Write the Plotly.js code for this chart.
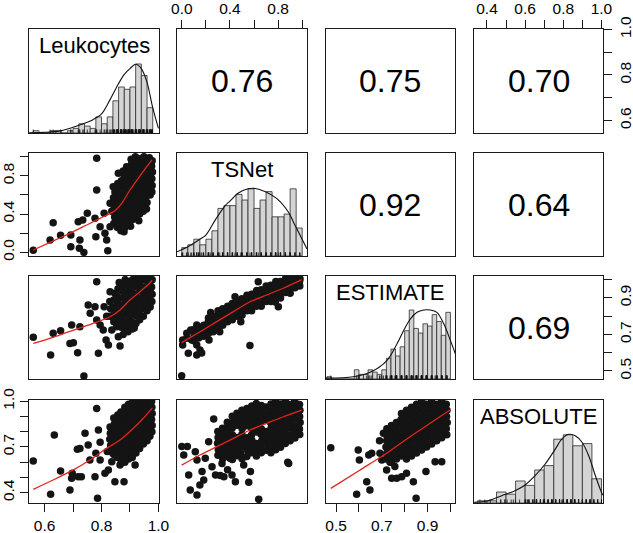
<!DOCTYPE html>
<html><head><meta charset="utf-8">
<script src="https://cdn.plot.ly/plotly-3.0.1.min.js"></script>
<style>html,body{margin:0;padding:0;background:#fff}#chart{width:633px;height:533px}</style>
</head><body><div id="chart"></div>
<script>
// ---------------- data ----------------
const varNames = ['Leukocytes', 'TSNet', 'ESTIMATE', 'ABSOLUTE'];
const corrRows = [1, 1, 1, 2, 2, 3];
const corrCols = [2, 3, 4, 3, 4, 4];
const corrValues = ['0.76', '0.75', '0.70', '0.92', '0.64', '0.69'];

// tick labels
const ticksL = [0.6, 0.7, 0.8, 0.9, 1.0], labelsL = ['0.6', '', '0.8', '', '1.0'];
const ticksT = [0, 0.2, 0.4, 0.6, 0.8, 1.0], labelsT = ['0.0', '', '0.4', '', '0.8', ''];
const ticksE = [0.5, 0.6, 0.7, 0.8, 0.9, 1.0], labelsE = ['0.5', '', '0.7', '', '0.9', ''];
const ticksA = [0.4, 0.5, 0.6, 0.7, 0.8, 0.9, 1.0];
const labelsAtop = ['0.4', '', '0.6', '', '0.8', '', '1.0'];
const labelsAleft = ['0.4', '', '', '0.7', '', '', '1.0'];

// histograms (bin left edges and counts)
const histL_left = [0.56,0.58,0.60,0.62,0.64,0.66,0.68,0.70,0.72,0.74,0.76,0.78,0.80,0.82,0.84,0.86,0.88,0.90,0.92,0.94,0.96];
const histL_count = [1,0,0,1,1,0,1,2,4,3,2,7,4,7,14,20,19,20,30,25,11];
const histT_left = [0,0.05,0.10,0.15,0.20,0.25,0.30,0.35,0.40,0.45,0.50,0.55,0.60,0.65,0.70,0.75,0.80,0.85,0.90,0.95];
const histT_count = [3,4,6,4,6,9,17,18,18,22,20,24,17,20,23,14,14,15,24,10];
const histE_left = [0.46,0.48,0.50,0.52,0.54,0.56,0.58,0.60,0.62,0.64,0.66,0.68,0.70,0.72,0.74,0.76,0.78,0.80,0.82,0.84,0.86,0.88,0.90,0.92,0.94,0.96,0.98];
const histE_count = [1,0,0,0,0,0,4,2,2,4,3,2,4,9,13,10,14,21,30,22,20,24,23,28,25,19,29];
const histA_left = [0.35,0.40,0.45,0.50,0.55,0.60,0.65,0.70,0.75,0.80,0.85,0.90,0.95];
const histA_count = [1,1,5,4,10,8,15,17,29,31,26,27,11];

// density curves (x, height in count units)
const densL = [[0.545,0.1],[0.60,0.3],[0.65,0.8],[0.70,2.5],[0.74,4.2],[0.77,5.8],[0.80,8.3],[0.83,14.5],[0.86,21.5],[0.88,25.5],[0.90,28],[0.92,29.9],[0.94,28],[0.96,22],[0.98,11],[1.0,2]];
const densT = [[-0.04,1.5],[0.05,3.3],[0.15,6],[0.20,7.5],[0.28,13],[0.36,18],[0.40,19.6],[0.47,22.5],[0.55,24],[0.60,24.2],[0.69,23],[0.79,20.5],[0.885,15.7],[0.94,11],[0.97,8.5],[1.04,2.5]];
const densE = [[0.456,0.4],[0.576,1],[0.649,2.9],[0.722,8],[0.766,15.2],[0.795,21],[0.824,26],[0.854,29],[0.883,30],[0.912,30],[0.941,29],[0.971,24],[1.0,16.7],[1.022,10.9]];
const densA = [[0.333,0.3],[0.407,1.05],[0.477,3.3],[0.547,5.6],[0.6,8.2],[0.652,12.4],[0.705,17.7],[0.758,24.5],[0.793,29.1],[0.828,31.2],[0.863,30.6],[0.898,27.6],[0.933,21.5],[0.968,12.4],[1.0,4.9],[1.008,3.5]];

// scatter points [x, y]
const pts_LT = [
[0.560,0.020],[0.619,0.127],[0.630,0.309],[0.656,0.177],[0.692,0.180],[0.692,0.057],[0.724,0.127],[0.722,0.040],[0.738,-0.002],[0.718,0.320],[0.734,0.337],[0.750,0.407],[0.783,0.984],[0.783,0.652],[0.780,0.162],[0.795,0.267],[0.818,0.127],[0.822,0.015],[0.809,0.407],[0.830,0.512],[0.841,0.687],[0.859,0.827],[0.888,0.896],[0.879,0.214],[0.886,0.309],[0.853,0.337],[0.777,0.355],[0.812,0.198],[0.830,0.267],
[0.868,0.225],[0.902,0.272],[0.931,0.330],[0.958,0.452],[0.977,0.630],[0.904,0.975],[0.876,0.850],[0.836,0.430],
[0.843,0.300],[0.846,0.370],[0.841,0.440],[0.845,0.500],[0.842,0.570],[0.847,0.630],
[0.856,0.260],[0.858,0.330],[0.854,0.390],[0.857,0.460],[0.855,0.520],[0.859,0.590],[0.853,0.660],[0.857,0.720],
[0.869,0.290],[0.871,0.350],[0.867,0.420],[0.870,0.480],[0.868,0.550],[0.872,0.610],[0.866,0.680],[0.870,0.750],
[0.882,0.260],[0.880,0.330],[0.884,0.400],[0.881,0.460],[0.883,0.530],[0.879,0.590],[0.885,0.660],[0.882,0.720],[0.880,0.790],
[0.895,0.310],[0.897,0.370],[0.893,0.440],[0.896,0.500],[0.894,0.570],[0.898,0.630],[0.892,0.700],[0.896,0.760],[0.894,0.830],[0.897,0.890],
[0.908,0.340],[0.906,0.410],[0.910,0.470],[0.907,0.540],[0.909,0.600],[0.905,0.670],[0.911,0.730],[0.907,0.800],[0.909,0.860],[0.906,0.930],
[0.921,0.370],[0.923,0.440],[0.919,0.500],[0.922,0.570],[0.920,0.630],[0.924,0.700],[0.918,0.760],[0.922,0.830],[0.920,0.890],[0.923,0.950],[0.919,1.000],
[0.934,0.400],[0.932,0.470],[0.936,0.530],[0.933,0.600],[0.935,0.660],[0.931,0.730],[0.937,0.790],[0.933,0.860],[0.935,0.920],[0.932,0.980],
[0.947,0.430],[0.949,0.500],[0.945,0.560],[0.948,0.630],[0.946,0.690],[0.950,0.760],[0.944,0.820],[0.948,0.890],[0.946,0.950],[0.949,1.000],
[0.960,0.520],[0.958,0.590],[0.962,0.650],[0.959,0.720],[0.961,0.780],[0.957,0.850],[0.963,0.910],[0.959,0.970],
[0.971,0.600],[0.973,0.670],[0.969,0.730],[0.972,0.800],[0.970,0.860],[0.974,0.930],[0.968,0.990],
[0.978,0.700],[0.977,0.770],[0.979,0.840],[0.976,0.900],[0.978,0.960]
];
const pts_LE = [
[0.560,0.684],[0.621,0.587],[0.630,0.706],[0.656,0.720],[0.689,0.651],[0.701,0.655],[0.716,0.600],[0.738,0.472],[0.695,0.752],[0.724,0.742],[0.753,0.861],[0.783,0.989],[0.777,0.852],[0.760,0.816],[0.789,0.597],[0.816,0.670],[0.824,0.642],[0.865,0.637],[0.795,0.752],[0.806,0.724],[0.836,0.724],[0.783,0.779],[0.830,0.934],[0.847,0.925],[0.809,0.852],[0.853,0.742],[0.859,0.688],[0.847,0.779],
[0.876,0.700],[0.893,0.715],[0.915,0.735],[0.818,0.800],[0.862,0.985],
[0.830,0.800],[0.832,0.840],[0.829,0.880],
[0.843,0.770],[0.845,0.810],[0.842,0.850],[0.844,0.890],
[0.856,0.750],[0.858,0.790],[0.855,0.830],[0.857,0.870],[0.854,0.910],[0.858,0.950],
[0.869,0.740],[0.871,0.780],[0.868,0.820],[0.870,0.860],[0.867,0.900],[0.871,0.940],[0.869,0.970],
[0.882,0.730],[0.880,0.770],[0.883,0.810],[0.881,0.850],[0.884,0.890],[0.880,0.930],[0.882,0.970],[0.883,1.000],
[0.895,0.750],[0.897,0.790],[0.894,0.830],[0.896,0.870],[0.893,0.910],[0.897,0.950],[0.895,0.990],
[0.908,0.730],[0.906,0.770],[0.909,0.810],[0.907,0.850],[0.910,0.890],[0.906,0.930],[0.908,0.970],[0.909,1.000],
[0.921,0.760],[0.923,0.800],[0.920,0.840],[0.922,0.880],[0.919,0.920],[0.923,0.960],[0.921,1.000],
[0.934,0.780],[0.932,0.820],[0.935,0.860],[0.933,0.900],[0.936,0.940],[0.932,0.980],[0.934,1.010],
[0.947,0.800],[0.949,0.840],[0.946,0.880],[0.948,0.920],[0.945,0.960],[0.949,1.000],
[0.960,0.830],[0.958,0.870],[0.961,0.910],[0.959,0.950],[0.962,0.990],[0.958,1.010],
[0.971,0.850],[0.969,0.890],[0.972,0.930],[0.970,0.970],[0.968,1.000],
[0.977,0.880],[0.978,0.920],[0.976,0.960],[0.978,1.000]
];
const pts_TE = [
[-0.001,0.474],[0.007,0.642],[0.041,0.679],[0.007,0.670],[0.082,0.670],[0.124,0.642],[0.151,0.615],[0.124,0.587],[0.054,0.597],[0.165,0.598],[0.074,0.724],[0.041,0.706],[0.124,0.752],[0.226,0.670],[0.240,0.820],[0.566,0.640],[0.635,0.989],[0.802,0.852],[0.777,0.877],[0.442,0.907],[0.490,0.770],[0.315,0.715],
[0.100,0.665],[0.102,0.695],[0.098,0.725],
[0.140,0.680],[0.142,0.710],[0.138,0.740],
[0.180,0.690],[0.178,0.720],[0.182,0.750],
[0.220,0.705],[0.222,0.735],[0.218,0.765],[0.221,0.790],
[0.260,0.715],[0.258,0.745],[0.262,0.775],[0.259,0.800],
[0.300,0.740],[0.302,0.770],[0.298,0.800],[0.301,0.830],
[0.340,0.750],[0.338,0.780],[0.342,0.810],[0.339,0.840],
[0.380,0.770],[0.382,0.800],[0.378,0.830],[0.381,0.855],
[0.420,0.780],[0.418,0.810],[0.422,0.840],[0.419,0.870],
[0.460,0.800],[0.462,0.830],[0.458,0.860],[0.461,0.885],
[0.500,0.805],[0.498,0.835],[0.502,0.865],[0.499,0.895],
[0.540,0.830],[0.542,0.860],[0.538,0.890],[0.541,0.915],
[0.580,0.830],[0.578,0.860],[0.582,0.890],[0.579,0.920],
[0.620,0.855],[0.622,0.885],[0.618,0.915],[0.621,0.940],
[0.660,0.855],[0.658,0.885],[0.662,0.915],[0.659,0.945],
[0.700,0.880],[0.702,0.910],[0.698,0.940],[0.701,0.965],
[0.740,0.880],[0.738,0.910],[0.742,0.940],[0.739,0.970],
[0.780,0.905],[0.782,0.935],[0.778,0.965],[0.781,0.990],
[0.820,0.900],[0.818,0.930],[0.822,0.960],[0.819,0.990],
[0.860,0.930],[0.862,0.960],[0.858,0.990],[0.861,1.005],
[0.900,0.925],[0.898,0.955],[0.902,0.985],[0.899,1.005],
[0.940,0.955],[0.942,0.985],[0.938,1.005],
[0.980,0.965],[0.978,0.990],[0.982,1.005]
];
const pts_LA = [
[0.560,0.608],[0.621,0.389],[0.634,0.778],[0.656,0.542],[0.689,0.417],[0.695,0.494],[0.697,0.527],[0.718,0.505],[0.729,0.505],[0.715,0.684],[0.742,0.789],[0.753,0.713],[0.783,0.953],[0.786,0.363],[0.777,0.505],[0.795,0.614],[0.780,0.658],[0.789,0.811],[0.724,0.690],[0.847,0.472],[0.879,0.472],[0.824,0.549],[0.836,0.603],[0.865,0.581],[0.918,0.581],[0.812,0.527],[0.759,0.614],[0.820,0.670],[0.840,0.660],[0.795,0.730],
[0.830,0.670],[0.832,0.710],[0.829,0.750],[0.831,0.790],[0.830,0.830],
[0.843,0.650],[0.845,0.690],[0.842,0.730],[0.844,0.770],[0.841,0.810],[0.845,0.850],[0.843,0.890],
[0.856,0.630],[0.858,0.670],[0.855,0.710],[0.857,0.750],[0.854,0.790],[0.858,0.830],[0.856,0.870],[0.857,0.910],
[0.869,0.610],[0.871,0.650],[0.868,0.690],[0.870,0.730],[0.867,0.770],[0.871,0.810],[0.869,0.850],[0.870,0.890],[0.868,0.930],
[0.882,0.600],[0.880,0.640],[0.883,0.680],[0.881,0.720],[0.884,0.760],[0.880,0.800],[0.882,0.840],[0.883,0.880],[0.881,0.920],[0.882,0.960],
[0.895,0.620],[0.897,0.660],[0.894,0.700],[0.896,0.740],[0.893,0.780],[0.897,0.820],[0.895,0.860],[0.896,0.900],[0.894,0.940],[0.895,0.980],
[0.908,0.630],[0.906,0.670],[0.909,0.710],[0.907,0.750],[0.910,0.790],[0.906,0.830],[0.908,0.870],[0.909,0.910],[0.907,0.950],[0.908,0.990],
[0.921,0.660],[0.923,0.700],[0.920,0.740],[0.922,0.780],[0.919,0.820],[0.923,0.860],[0.921,0.900],[0.922,0.940],[0.920,0.980],[0.921,1.000],
[0.934,0.690],[0.932,0.730],[0.935,0.770],[0.933,0.810],[0.936,0.850],[0.932,0.890],[0.934,0.930],[0.935,0.970],[0.933,1.000],
[0.947,0.720],[0.949,0.760],[0.946,0.800],[0.948,0.840],[0.945,0.880],[0.949,0.920],[0.947,0.960],[0.948,1.000],
[0.960,0.740],[0.958,0.780],[0.961,0.820],[0.959,0.860],[0.962,0.900],[0.958,0.940],[0.960,0.980],[0.961,1.000],
[0.970,0.770],[0.972,0.810],[0.969,0.850],[0.971,0.890],[0.968,0.930],[0.972,0.970],[0.970,1.000],
[0.977,0.800],[0.978,0.840],[0.976,0.880],[0.978,0.920],[0.977,0.960],[0.976,1.000]
];
const pts_TA = [
[0.000,0.702],[0.046,0.702],[0.016,0.647],[0.057,0.516],[0.070,0.417],[0.126,0.385],[0.112,0.669],[0.126,0.614],[0.168,0.538],[0.182,0.483],[0.150,0.450],[0.195,0.625],[0.223,0.734],[0.265,0.883],[0.251,0.570],[0.280,0.516],[0.320,0.512],[0.350,0.505],[0.334,0.592],[0.380,0.550],[0.417,0.516],[0.445,0.472],[0.514,0.581],[0.570,0.538],[0.556,0.468],[0.639,0.356],[0.888,0.592],[0.880,0.600],[0.490,0.660],[0.400,0.625],
[0.300,0.645],[0.303,0.683],[0.297,0.724],[0.301,0.762],[0.299,0.801],
[0.340,0.622],[0.337,0.664],[0.343,0.703],[0.339,0.742],[0.342,0.783],[0.338,0.822],
[0.380,0.641],[0.383,0.679],[0.377,0.722],[0.381,0.758],[0.379,0.801],[0.383,0.838],[0.378,0.862],
[0.420,0.618],[0.417,0.661],[0.423,0.699],[0.419,0.741],[0.421,0.778],[0.418,0.822],[0.422,0.861],[0.419,0.902],
[0.460,0.642],[0.463,0.680],[0.457,0.718],[0.461,0.762],[0.459,0.842],[0.463,0.879],[0.458,0.921],
[0.500,0.622],[0.497,0.701],[0.503,0.739],[0.499,0.781],[0.501,0.819],[0.498,0.862],[0.502,0.902],[0.499,0.941],
[0.540,0.638],[0.543,0.681],[0.537,0.718],[0.541,0.761],[0.539,0.839],[0.543,0.882],[0.538,0.918],[0.541,0.952],
[0.580,0.661],[0.577,0.699],[0.583,0.742],[0.579,0.779],[0.581,0.821],[0.578,0.858],[0.582,0.901],[0.579,0.938],[0.581,0.968],
[0.620,0.641],[0.623,0.678],[0.617,0.722],[0.621,0.798],[0.619,0.842],[0.623,0.879],[0.618,0.921],[0.621,0.958],[0.619,0.985],
[0.660,0.662],[0.657,0.701],[0.663,0.739],[0.659,0.781],[0.661,0.818],[0.658,0.862],[0.662,0.899],[0.659,0.941],[0.661,0.972],
[0.700,0.679],[0.703,0.722],[0.697,0.758],[0.701,0.801],[0.699,0.878],[0.703,0.918],[0.698,0.962],
[0.740,0.661],[0.737,0.702],[0.743,0.741],[0.739,0.778],[0.741,0.822],[0.738,0.859],[0.742,0.902],[0.739,0.938],[0.741,0.981],
[0.780,0.682],[0.783,0.718],[0.777,0.762],[0.781,0.799],[0.779,0.842],[0.783,0.879],[0.778,0.922],[0.781,0.958],[0.779,1.000],
[0.820,0.698],[0.817,0.742],[0.823,0.779],[0.819,0.821],[0.821,0.862],[0.818,0.898],[0.822,0.941],[0.819,0.982],
[0.860,0.722],[0.863,0.758],[0.857,0.801],[0.861,0.838],[0.859,0.881],[0.863,0.919],[0.858,0.961],[0.861,1.000],
[0.900,0.741],[0.897,0.778],[0.903,0.822],[0.899,0.861],[0.901,0.899],[0.898,0.942],[0.902,0.979],
[0.940,0.759],[0.943,0.802],[0.937,0.838],[0.941,0.881],[0.939,0.921],[0.943,0.958],[0.938,1.000],
[0.980,0.782],[0.977,0.818],[0.983,0.861],[0.979,0.899],[0.981,0.941],[0.978,0.978]
];
const pts_EA = [
[0.477,0.695],[0.590,0.389],[0.597,0.680],[0.602,0.614],[0.634,0.472],[0.648,0.417],[0.656,0.658],[0.643,0.647],[0.692,0.658],[0.700,0.614],[0.721,0.549],[0.743,0.494],[0.765,0.494],[0.787,0.505],[0.838,0.472],[0.850,0.363],[0.893,0.538],[0.933,0.603],[0.962,0.603],[0.707,0.789],[0.690,0.740],[0.736,0.600],[0.757,0.571],[0.808,0.527],
[0.720,0.620],[0.722,0.660],[0.718,0.700],[0.721,0.740],[0.719,0.780],[0.722,0.820],
[0.742,0.600],[0.744,0.640],[0.740,0.680],[0.743,0.720],[0.741,0.760],[0.744,0.800],[0.742,0.840],
[0.764,0.620],[0.762,0.660],[0.766,0.700],[0.763,0.740],[0.765,0.780],[0.762,0.820],[0.764,0.860],
[0.786,0.640],[0.788,0.680],[0.784,0.720],[0.787,0.760],[0.785,0.800],[0.788,0.840],[0.784,0.880],[0.786,0.920],
[0.808,0.620],[0.806,0.660],[0.810,0.700],[0.807,0.740],[0.809,0.780],[0.806,0.820],[0.810,0.860],[0.807,0.900],[0.808,0.940],
[0.830,0.640],[0.832,0.680],[0.828,0.720],[0.831,0.760],[0.829,0.800],[0.832,0.840],[0.828,0.880],[0.831,0.920],[0.830,0.960],
[0.852,0.660],[0.850,0.700],[0.854,0.740],[0.851,0.780],[0.853,0.820],[0.850,0.860],[0.854,0.900],[0.851,0.940],[0.852,0.980],
[0.874,0.680],[0.876,0.720],[0.872,0.760],[0.875,0.800],[0.873,0.840],[0.876,0.880],[0.872,0.920],[0.875,0.960],[0.874,1.000],
[0.896,0.700],[0.894,0.740],[0.898,0.780],[0.895,0.820],[0.897,0.860],[0.894,0.900],[0.898,0.940],[0.895,0.980],
[0.918,0.720],[0.920,0.760],[0.916,0.800],[0.919,0.840],[0.917,0.880],[0.920,0.920],[0.916,0.960],[0.918,1.000],
[0.940,0.740],[0.938,0.780],[0.942,0.820],[0.939,0.860],[0.941,0.900],[0.938,0.940],[0.942,0.980],
[0.962,0.760],[0.964,0.800],[0.960,0.840],[0.963,0.880],[0.961,0.920],[0.964,0.960],[0.962,1.000],
[0.984,0.780],[0.982,0.820],[0.986,0.860],[0.983,0.900],[0.985,0.940],[0.982,0.980]
];

// loess smoothers [x, y]
const loess_LT = [[0.560,0.023],[0.625,0.110],[0.689,0.198],[0.748,0.285],[0.795,0.355],[0.847,0.435],[0.871,0.512],[0.900,0.652],[0.929,0.775],[0.959,0.897],[0.978,0.970]];
const loess_LE = [[0.560,0.651],[0.630,0.684],[0.701,0.724],[0.771,0.761],[0.830,0.797],[0.865,0.834],[0.900,0.889],[0.935,0.934],[0.965,0.975],[0.978,0.995]];
const loess_TE = [[-0.001,0.655],[0.151,0.715],[0.290,0.770],[0.428,0.825],[0.566,0.879],[0.705,0.916],[0.843,0.953],[0.996,1.000]];
const loess_LA = [[0.560,0.422],[0.630,0.483],[0.701,0.549],[0.759,0.614],[0.818,0.691],[0.865,0.745],[0.912,0.822],[0.947,0.888],[0.978,0.955]];
const loess_TA = [[-0.001,0.581],[0.151,0.647],[0.290,0.702],[0.400,0.745],[0.566,0.811],[0.705,0.855],[0.843,0.898],[0.996,0.942]];
const loess_EA = [[0.477,0.428],[0.605,0.549],[0.721,0.658],[0.823,0.767],[0.911,0.855],[0.998,0.942]];

// ---------------- layout settings ----------------
const FONT = 'Liberation Sans, Arial, Helvetica, sans-serif';
const W = 633, H = 533;
const colPx = [[29,159],[177,307],[326,455],[474,603]];
const rowPx = [[29,133],[153,256],[276,379],[400,503]];
const colDom = colPx.map(p => [p[0]/W, p[1]/W]);
const rowDom = rowPx.map(p => [1 - p[1]/H, 1 - p[0]/H]);
const varRanges = [[0.545,1.002],[-0.04,1.04],[0.456,1.02],[0.332,1.008]];
const histYmax = [45.2, 36.8, 44.8, 46.8];
const binW = [0.02, 0.05, 0.02, 0.05];

const hists = [
  {left: histL_left, count: histL_count, dens: densL},
  {left: histT_left, count: histT_count, dens: densT},
  {left: histE_left, count: histE_count, dens: densE},
  {left: histA_left, count: histA_count, dens: densA}
];
const rugs = [pts_LT.map(d=>d[0]), pts_TE.map(d=>d[0]), pts_EA.map(d=>d[0]), pts_EA.map(d=>d[1])];

const scatters = [
  {r:2, c:1, pts: pts_LT, lo: loess_LT},
  {r:3, c:1, pts: pts_LE, lo: loess_LE},
  {r:3, c:2, pts: pts_TE, lo: loess_TE},
  {r:4, c:1, pts: pts_LA, lo: loess_LA},
  {r:4, c:2, pts: pts_TA, lo: loess_TA},
  {r:4, c:3, pts: pts_EA, lo: loess_EA}
];

function sfx(k){ return k === 1 ? '' : String(k); }
function kOf(r, c){ return (r-1)*4 + c; }

const traces = [];
hists.forEach((h, i) => {
  const k = kOf(i+1, i+1);
  const xa = 'x' + sfx(k), ya = 'y' + sfx(k);
  traces.push({type:'bar', x: h.left, y: h.count, width: binW[i], offset: 0,
    marker: {color:'#d4d4d4', line:{color:'#2b2b2b', width:0.8}}, xaxis: xa, yaxis: ya, hoverinfo:'skip'});
  traces.push({type:'scatter', mode:'lines', x: h.dens.map(d=>d[0]), y: h.dens.map(d=>d[1]),
    line:{color:'#111', width:1.1, shape:'spline', smoothing:0.9}, xaxis: xa, yaxis: ya, hoverinfo:'skip'});
  traces.push({type:'scatter', mode:'markers', x: rugs[i], y: rugs[i].map(()=>0),
    marker:{symbol:'line-ns-open', size:5, color:'#111', line:{width:0.8, color:'#111'}}, xaxis: xa, yaxis: ya, hoverinfo:'skip'});
});
scatters.forEach(s => {
  const k = kOf(s.r, s.c);
  const xa = 'x' + sfx(k), ya = 'y' + sfx(k);
  traces.push({type:'scatter', mode:'markers', x: s.pts.map(d=>d[0]), y: s.pts.map(d=>d[1]),
    marker:{color:'#141414', size:7.5, line:{width:0}}, xaxis: xa, yaxis: ya, hoverinfo:'skip'});
  traces.push({type:'scatter', mode:'lines', x: s.lo.map(d=>d[0]), y: s.lo.map(d=>d[1]),
    line:{color:'#e3241b', width:1.3, shape:'spline', smoothing:0.6}, xaxis: xa, yaxis: ya, hoverinfo:'skip'});
});
// empty traces so that the upper (correlation) panels get their axes
corrRows.forEach((r, i) => {
  const k = kOf(r, corrCols[i]);
  traces.push({type:'scatter', mode:'markers', x: [], y: [], xaxis: 'x' + sfx(k), yaxis: 'y' + sfx(k), hoverinfo:'skip'});
});

const tickFont = {family: FONT, size: 15.5, color: '#000'};
function baseAxis(){
  return {showgrid:false, zeroline:false, showline:true, mirror:true, linecolor:'#1a1a1a', linewidth:1,
    ticks:'', showticklabels:false, fixedrange:true, automargin:false};
}
function addTicks(ax, side, vals, texts, angle){
  Object.assign(ax, {side: side, ticks:'outside', ticklen:8, tickwidth:1, tickcolor:'#1a1a1a',
    tickmode:'array', tickvals: vals, ticktext: texts, showticklabels:true, tickfont: tickFont, tickangle: angle});
}

const layout = {width: W, height: H, margin:{l:0, r:0, t:0, b:0}, paper_bgcolor:'#fff', plot_bgcolor:'#fff',
  showlegend:false, hovermode:false, barmode:'overlay', annotations: []};

for (let r = 1; r <= 4; r++) {
  for (let c = 1; c <= 4; c++) {
    const k = kOf(r, c);
    const xa = baseAxis(), ya = baseAxis();
    xa.domain = colDom[c-1]; xa.range = varRanges[c-1]; xa.anchor = 'y' + sfx(k);
    ya.domain = rowDom[r-1]; ya.anchor = 'x' + sfx(k);
    ya.range = (r === c) ? [0, histYmax[r-1]] : varRanges[r-1];
    if (r === 1 && c === 2) addTicks(xa, 'top', ticksT, labelsT, 0);
    if (r === 1 && c === 4) { addTicks(xa, 'top', ticksA, labelsAtop, 0); addTicks(ya, 'right', ticksL, labelsL, -90); }
    if (r === 2 && c === 1) addTicks(ya, 'left', ticksT, labelsT, -90);
    if (r === 3 && c === 4) addTicks(ya, 'right', ticksE, labelsE, -90);
    if (r === 4 && c === 1) { addTicks(xa, 'bottom', ticksL, labelsL, 0); addTicks(ya, 'left', ticksA, labelsAleft, -90); }
    if (r === 4 && c === 3) addTicks(xa, 'bottom', ticksE, labelsE, 0);
    layout['xaxis' + sfx(k)] = xa;
    layout['yaxis' + sfx(k)] = ya;
  }
}

// variable names on diagonal
varNames.forEach((nm, i) => {
  const k = kOf(i+1, i+1);
  layout.annotations.push({text: nm, xref: 'x' + sfx(k) + ' domain', yref: 'y' + sfx(k) + ' domain',
    x: 0.5, y: 0.84, xanchor:'center', yanchor:'middle', showarrow:false,
    font:{family: FONT, size: 22, color:'#000'}});
});
// correlations in upper panels
corrValues.forEach((v, i) => {
  const k = kOf(corrRows[i], corrCols[i]);
  layout.annotations.push({text: v, xref: 'x' + sfx(k) + ' domain', yref: 'y' + sfx(k) + ' domain',
    x: 0.5, y: 0.5, xanchor:'center', yanchor:'middle', showarrow:false,
    font:{family: FONT, size: 32, color:'#000'}});
});

Plotly.newPlot('chart', traces, layout, {displayModeBar:false, staticPlot:true});
</script>
</body></html>
